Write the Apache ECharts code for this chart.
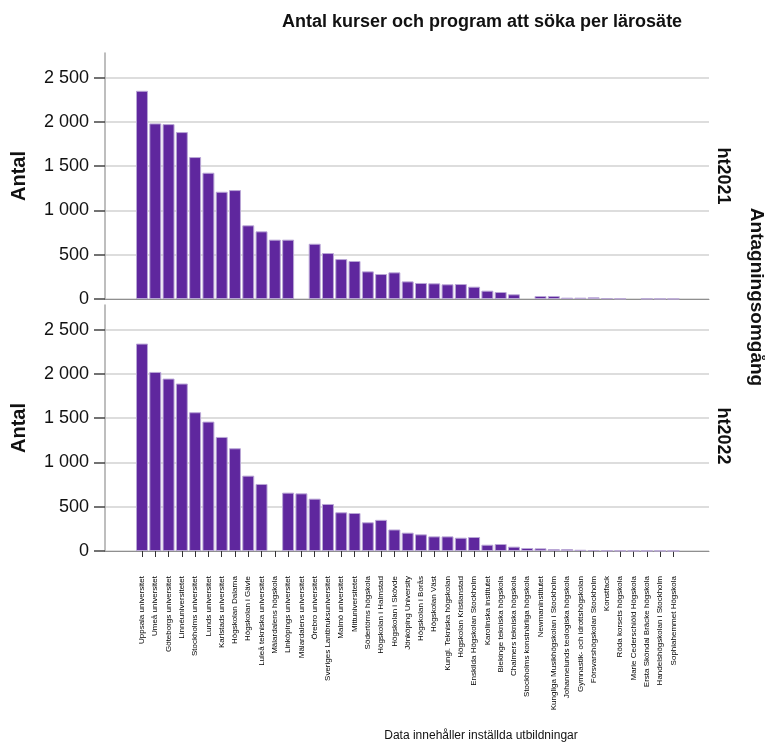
<!DOCTYPE html>
<html><head><meta charset="utf-8">
<script src="https://cdn.jsdelivr.net/npm/echarts@6/dist/echarts.min.js"></script>
<style>html,body{margin:0;padding:0;background:#fff}#c{width:765px;height:744px}</style>
</head><body><div id="c"></div>
<script>
const categories = [
  'Uppsala universitet','Umeå universitet','Göteborgs universitet','Linnéuniversitetet',
  'Stockholms universitet','Lunds universitet','Karlstads universitet','Högskolan Dalarna',
  'Högskolan i Gävle','Luleå tekniska universitet','Mälardalens högskola','Linköpings universitet',
  'Mälardalens universitet','Örebro universitet','Sveriges Lantbruksuniversitet','Malmö universitet',
  'Mittuniversitetet','Södertörns högskola','Högskolan i Halmstad','Högskolan i Skövde',
  'Jönköping University','Högskolan i Borås','Högskolan Väst','Kungl. Tekniska högskolan',
  'Högskolan Kristianstad','Enskilda Högskolan Stockholm','Karolinska institutet','Blekinge tekniska högskola',
  'Chalmers tekniska högskola','Stockholms konstnärliga högskola','Newmaninstitutet','Kungliga Musikhögskolan i Stockholm',
  'Johannelunds teologiska högskola','Gymnastik- och idrottshögskolan','Försvarshögskolan Stockholm','Konstfack',
  'Röda korsets högskola','Marie Cederschiöld Högskola','Ersta Sköndal Bräcke högskola','Handelshögskolan i Stockholm',
  'Sophiahemmet Högskola'
];
const ht2021 = [2351,1983,1975,1885,1603,1426,1211,1230,832,764,670,670,null,624,519,451,429,312,282,301,
  199,181,177,166,169,139,94,79,53,null,34,34,15,15,19,8,4,null,3,2,1];
const ht2022 = [2342,2022,1947,1891,1567,1461,1288,1160,851,757,null,659,651,591,531,437,429,324,352,243,
  207,188,165,165,150,158,71,79,49,34,30,22,22,14,10,5,4,3,2,2,1];
const yTicks = [0,500,1000,1500,2000,2500];
const panelNames = ['ht2021','ht2022'];
const titleText = 'Antal kurser och program att söka per lärosäte';
const yName = 'Antal';
const facetName = 'Antagningsomgång';
const footnote = 'Data innehåller inställda utbildningar';

const FONT = 'Liberation Sans, Arial, sans-serif';
const YMAX = 2778;
const fmt = v => String(v).replace(/\B(?=(\d{3})+(?!\d))/g, ' ');
const panelTops = [53, 305];
const H = 246;

const grid = [], xAxis = [], yAxis = [], series = [];
panelTops.forEach((top, p) => {
  grid.push({left: 105, right: 56, top: top, height: H});
  grid.push({left: 135.35, width: 544.65, top: top, height: H});
  const gFull = p * 2, gBar = p * 2 + 1;
  xAxis.push({gridIndex: gFull, type: 'value', min: 0, max: 1,
    axisLine: {show: true, lineStyle: {color: '#8f8f8f', width: 1}},
    axisTick: {show: false}, axisLabel: {show: false}, splitLine: {show: false}});
  xAxis.push({gridIndex: gBar, type: 'category', data: categories,
    axisLine: {show: false},
    axisTick: {show: p === 1, alignWithLabel: true, length: 6, interval: 0,
      lineStyle: {color: '#333', width: 1}},
    axisLabel: {show: p === 1, rotate: 90, interval: 0, fontSize: 8, margin: 25,
      color: '#000', fontFamily: FONT}});
  yAxis.push({gridIndex: gFull, type: 'value', min: 0, max: YMAX, interval: 500,
    name: yName, nameLocation: 'middle', nameGap: 76,
    nameTextStyle: {fontSize: 20, fontWeight: 'bold', color: '#111', fontFamily: FONT},
    axisLine: {show: true, lineStyle: {color: '#a8a8a8', width: 1.5}},
    axisTick: {show: true, length: 11, customValues: yTicks, lineStyle: {color: '#444', width: 1.5}},
    axisLabel: {customValues: yTicks, formatter: fmt, fontSize: 18, margin: 16,
      color: '#111', fontFamily: FONT},
    splitLine: {show: true, lineStyle: {color: '#d2d2d2', width: 1.5}}});
  yAxis.push({gridIndex: gBar, type: 'value', min: 0, max: YMAX, show: false,
    splitLine: {show: false}});
  series.push({type: 'bar', name: panelNames[p], xAxisIndex: gBar, yAxisIndex: gBar,
    data: p === 0 ? ht2021 : ht2022, barCategoryGap: '10%',
    itemStyle: {color: '#5f279e', borderColor: '#b9a6d6', borderWidth: 1},
    emphasis: {disabled: true}});
});

const txt = (text, x, y, size, weight, rot, align) => ({
  type: 'text', x: x, y: y, rotation: rot || 0, silent: true,
  style: {text: text, fontSize: size, fontWeight: weight, fontFamily: FONT, fill: '#111',
    textAlign: align || 'center', align: align || 'center',
    textVerticalAlign: 'middle', verticalAlign: 'middle'}
});

const chart = echarts.init(document.getElementById('c'), null, {renderer: 'canvas'});
chart.setOption({
  animation: false,
  backgroundColor: '#fff',
  title: {text: titleText, left: 277, top: 8,
    textStyle: {fontSize: 18, fontWeight: 'bold', color: '#111', fontFamily: FONT}},
  grid: grid, xAxis: xAxis, yAxis: yAxis, series: series,
  graphic: [
    txt(panelNames[0], 723, 176, 18, 'bold', -Math.PI / 2),
    txt(panelNames[1], 723, 436, 18, 'bold', -Math.PI / 2),
    txt(facetName, 756, 297, 19, 'bold', -Math.PI / 2),
    txt(footnote, 481, 736, 12, 'normal', 0)
  ]
});
</script></body></html>
